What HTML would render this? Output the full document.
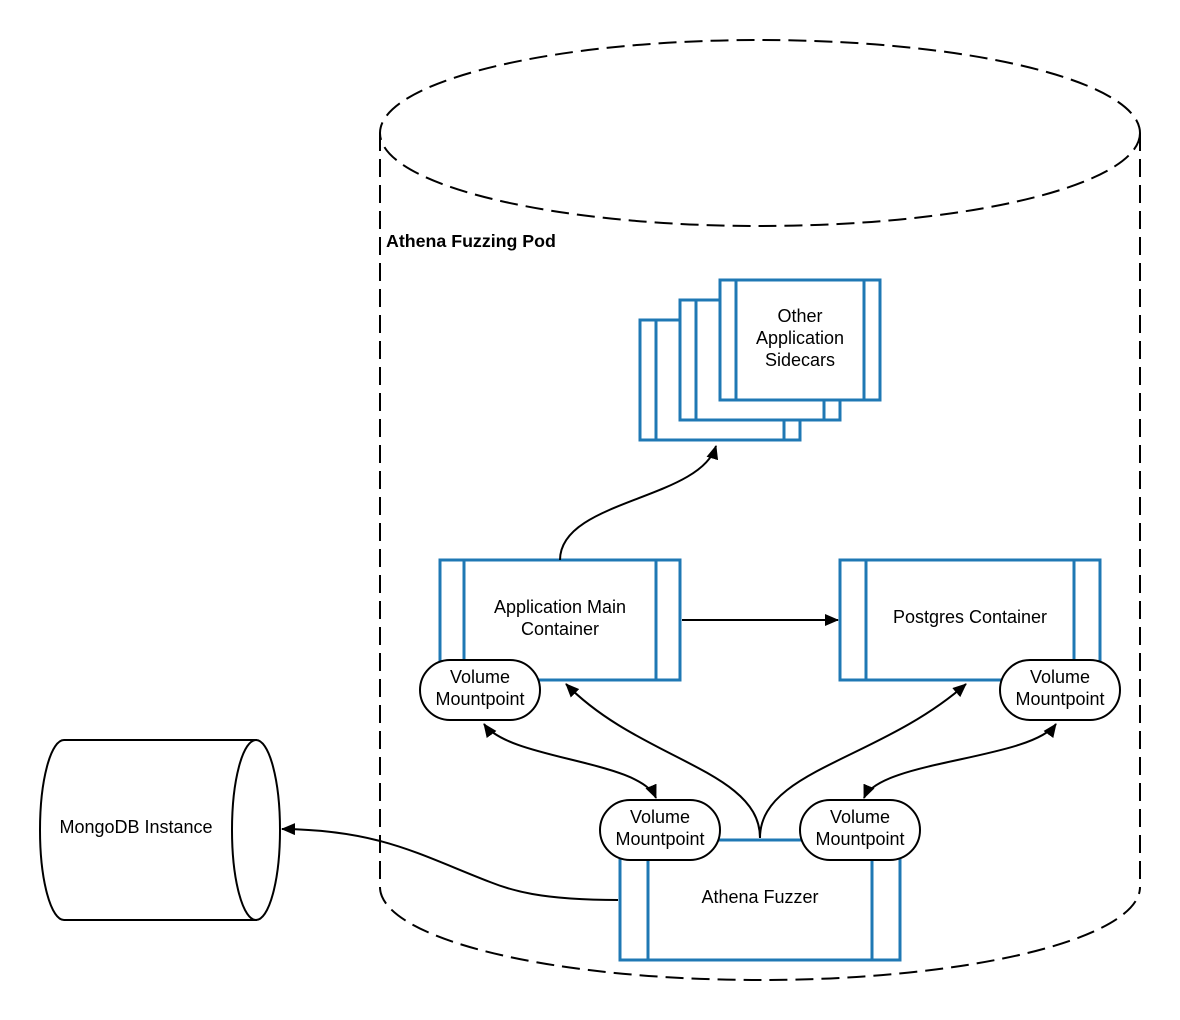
<!DOCTYPE html>
<html><head><style>body{margin:0;background:#fff}svg{display:block}text{font-family:"Liberation Sans",sans-serif;font-size:18px;fill:#000}</style></head>
<body>
<svg width="1180" height="1020" viewBox="0 0 1180 1020" xmlns="http://www.w3.org/2000/svg">
<defs><marker id="a" markerWidth="14" markerHeight="12" refX="13" refY="6" orient="auto-start-reverse" markerUnits="userSpaceOnUse"><path d="M0,0 L14,6 L0,12 Z" fill="#000"/></marker></defs>
<g fill="none" stroke="#000" stroke-width="2" stroke-dasharray="18,8">
<ellipse cx="760" cy="133" rx="380" ry="93"/>
<line x1="380" y1="133" x2="380" y2="887"/>
<line x1="1140" y1="133" x2="1140" y2="887"/>
<path d="M380,887 A380,93 0 0 0 1140,887"/>
</g>
<text x="386" y="247" style="font-weight:bold;font-size:17.8px">Athena Fuzzing Pod</text>
<g stroke="#1f78b4" stroke-width="3" fill="#fff">
<rect x="640" y="320" width="160" height="120"/><line x1="656" y1="320" x2="656" y2="440"/><line x1="784" y1="320" x2="784" y2="440"/>
<rect x="680" y="300" width="160" height="120"/><line x1="696" y1="300" x2="696" y2="420"/><line x1="824" y1="300" x2="824" y2="420"/>
<rect x="720" y="280" width="160" height="120"/><line x1="736" y1="280" x2="736" y2="400"/><line x1="864" y1="280" x2="864" y2="400"/>
<rect x="440" y="560" width="240" height="120"/><line x1="464" y1="560" x2="464" y2="680"/><line x1="656" y1="560" x2="656" y2="680"/>
<rect x="840" y="560" width="260" height="120"/><line x1="866" y1="560" x2="866" y2="680"/><line x1="1074" y1="560" x2="1074" y2="680"/>
<rect x="620" y="840" width="280" height="120"/><line x1="648" y1="840" x2="648" y2="960"/><line x1="872" y1="840" x2="872" y2="960"/>
</g>
<text text-anchor="middle"><tspan x="800" y="322">Other</tspan><tspan x="800" y="344">Application</tspan><tspan x="800" y="366">Sidecars</tspan></text>
<text text-anchor="middle"><tspan x="560" y="613">Application Main</tspan><tspan x="560" y="635">Container</tspan></text>
<text x="970" y="623" text-anchor="middle">Postgres Container</text>
<text x="760" y="903" text-anchor="middle">Athena Fuzzer</text>
<g fill="none" stroke="#000" stroke-width="2">
<path d="M560,560 C560,500 700,500 716,446" marker-end="url(#a)"/>
<line x1="682" y1="620" x2="838" y2="620" marker-end="url(#a)"/>
<path d="M760,838 C760,770 640,760 566,684" marker-end="url(#a)"/>
<path d="M760,838 C760,770 880,760 966,684" marker-end="url(#a)"/>
<path d="M484,724 C510,760 640,760 656,798" marker-start="url(#a)" marker-end="url(#a)"/>
<path d="M1056,724 C1030,760 880,760 864,798" marker-start="url(#a)" marker-end="url(#a)"/>
<path d="M618,900 C540,900 510,890 490,882 C420,855 380,830 282,829" marker-end="url(#a)"/>
</g>
<g fill="#fff" stroke="#000" stroke-width="2">
<rect x="420" y="660" width="120" height="60" rx="30"/>
<rect x="1000" y="660" width="120" height="60" rx="30"/>
<rect x="600" y="800" width="120" height="60" rx="30"/>
<rect x="800" y="800" width="120" height="60" rx="30"/>
<path d="M64,740 L256,740 L256,920 L64,920 A24,90 0 0 1 64,740 Z"/>
<ellipse cx="256" cy="830" rx="24" ry="90"/>
</g>
<text text-anchor="middle"><tspan x="480" y="683">Volume</tspan><tspan x="480" y="705">Mountpoint</tspan></text>
<text text-anchor="middle"><tspan x="1060" y="683">Volume</tspan><tspan x="1060" y="705">Mountpoint</tspan></text>
<text text-anchor="middle"><tspan x="660" y="823">Volume</tspan><tspan x="660" y="845">Mountpoint</tspan></text>
<text text-anchor="middle"><tspan x="860" y="823">Volume</tspan><tspan x="860" y="845">Mountpoint</tspan></text>
<text x="136" y="833" text-anchor="middle">MongoDB Instance</text>
</svg>
</body></html>
